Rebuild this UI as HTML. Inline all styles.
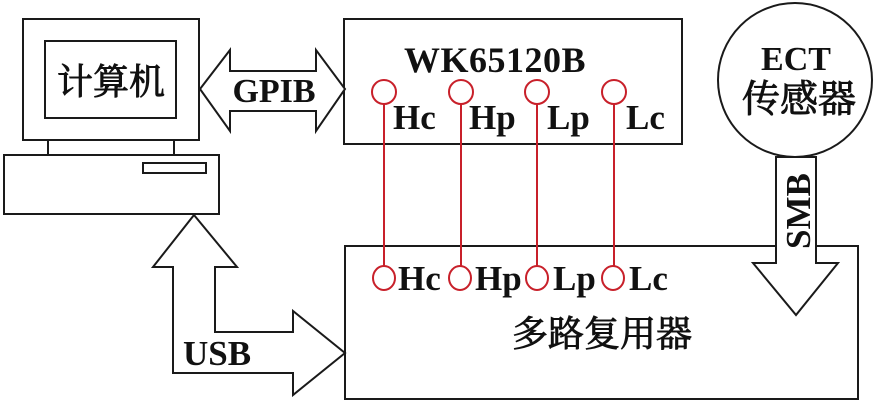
<!DOCTYPE html>
<html><head><meta charset="utf-8"><style>
html,body{margin:0;padding:0;background:#fff;}
svg{display:block;}
text{font-family:"Liberation Serif","Noto Serif CJK SC",serif;fill:#111;}
.b{font-weight:bold;}
.cn{font-family:"Noto Serif CJK SC","Liberation Serif",serif;stroke:#111;stroke-width:0.9;}
</style></head><body>
<svg width="875" height="405" viewBox="0 0 875 405" xmlns="http://www.w3.org/2000/svg">
<g fill="none" stroke="#1a1a1a" stroke-width="2">
  <!-- computer -->
  <rect x="23" y="19" width="176" height="121"/>
  <rect x="45" y="41" width="131" height="77"/>
  <line x1="48" y1="140" x2="48" y2="155"/>
  <line x1="174" y1="140" x2="174" y2="155"/>
  <rect x="4" y="155" width="215" height="59"/>
  <rect x="143" y="163" width="63" height="10"/>
  <!-- WK box -->
  <rect x="344" y="19" width="338" height="125"/>
  <!-- multiplexer -->
  <rect x="345" y="246" width="513" height="153"/>
  <!-- ECT circle -->
  <circle cx="795" cy="80" r="77"/>
</g>
<!-- GPIB arrow -->
<polygon points="200,89 230,50 230,71 316,71 316,50 345,89 316,131 316,111 230,111 230,131" fill="#fff" stroke="#1a1a1a" stroke-width="2"/>
<!-- USB arrow -->
<polygon points="194,215 237,267 215,267 215,332 293,332 293,311 345,353 293,395 293,373 173,373 173,267 153,267" fill="#fff" stroke="#1a1a1a" stroke-width="2"/>
<!-- SMB arrow -->
<polygon points="776,157 816,157 816,263 838,263 796,315 753,263 776,263" fill="#fff" stroke="#1a1a1a" stroke-width="2"/>
<!-- red connections -->
<g stroke="#c8202a" stroke-width="2" fill="#fff">
  <line x1="384" y1="104" x2="384" y2="266"/>
  <line x1="461" y1="104" x2="461" y2="266"/>
  <line x1="537" y1="104" x2="537" y2="266"/>
  <line x1="614" y1="104" x2="614" y2="266"/>
  <circle cx="384" cy="92" r="12"/>
  <circle cx="461" cy="92" r="12"/>
  <circle cx="537" cy="92" r="12"/>
  <circle cx="614" cy="92" r="12"/>
  <ellipse cx="384" cy="278" rx="11" ry="12"/>
  <ellipse cx="460" cy="278" rx="11" ry="12"/>
  <ellipse cx="537" cy="278" rx="11" ry="12"/>
  <ellipse cx="613" cy="278" rx="11" ry="12"/>
</g>
<!-- texts -->
<text class="cn" x="111" y="94" font-size="36" text-anchor="middle">计算机</text>
<text class="b" x="274" y="102" font-size="34" text-anchor="middle">GPIB</text>
<text class="b" x="495" y="72" font-size="36" text-anchor="middle" letter-spacing="0.5">WK65120B</text>
<text class="b" x="393" y="129" font-size="35">Hc</text>
<text class="b" x="469" y="129" font-size="35">Hp</text>
<text class="b" x="547" y="129" font-size="35">Lp</text>
<text class="b" x="626" y="129" font-size="35">Lc</text>
<text class="b" x="398" y="290" font-size="35">Hc</text>
<text class="b" x="475" y="290" font-size="35">Hp</text>
<text class="b" x="553" y="290" font-size="35">Lp</text>
<text class="b" x="629" y="290" font-size="35">Lc</text>
<text class="cn" x="602" y="346" font-size="36" text-anchor="middle">多路复用器</text>
<text class="b" x="796" y="70" font-size="34" text-anchor="middle">ECT</text>
<text class="cn" x="799" y="112" font-size="38" text-anchor="middle">传感器</text>
<text class="b" x="810" y="211" font-size="35" text-anchor="middle" transform="rotate(-90 810 211)">SMB</text>
<text class="b" x="217" y="365" font-size="35" text-anchor="middle">USB</text>
</svg>
</body></html>
